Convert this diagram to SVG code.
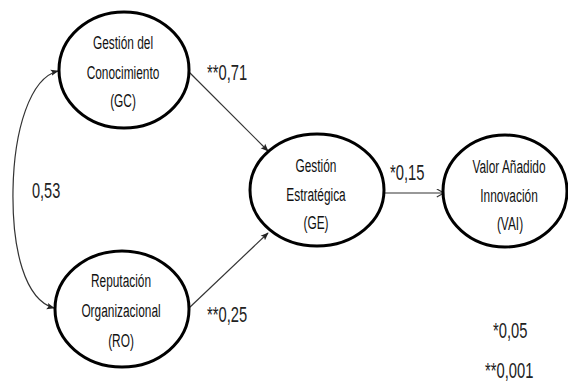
<svg xmlns="http://www.w3.org/2000/svg" width="568" height="383" viewBox="0 0 568 383">
<defs>
<style>
.node ellipse{fill:#fff;stroke:#000;stroke-width:3}
.nt{font-family:"Liberation Sans",Arial,sans-serif;font-size:18px;fill:#111;text-anchor:middle}
.lb{font-family:"Liberation Sans",Arial,sans-serif;font-size:22px;fill:#222}
.edge{fill:none;stroke:#333;stroke-width:1.2}
</style>
<marker id="ah" viewBox="0 0 10 10" refX="9" refY="5" markerWidth="8" markerHeight="8" markerUnits="userSpaceOnUse" orient="auto">
<path d="M0,1 L10,5 L0,9 L2,5 Z" fill="#222"/>
</marker>
<marker id="ao" viewBox="0 0 10 10" refX="9" refY="5" markerWidth="9" markerHeight="9" markerUnits="userSpaceOnUse" orient="auto">
<path d="M1,0.5 L9,5 L1,9.5" fill="none" stroke="#333" stroke-width="1.3"/>
</marker>
</defs>
<rect width="568" height="383" fill="#fff"/>
<g id="connectors">
<path class="edge" d="M189,72 L268,151" marker-end="url(#ah)"/>
<path class="edge" d="M189,308 L268,233" marker-end="url(#ah)"/>
<path class="edge" d="M384,193 L444,193" marker-end="url(#ao)"/>
<path class="edge" d="M13,190 C14,130 30,78 58,71" marker-end="url(#ah)"/>
<path class="edge" d="M13,190 C12,250 25,300 54,308" marker-end="url(#ah)"/>
</g>
<g id="GC" class="node">
<ellipse cx="124" cy="70" rx="65" ry="58"/>
<text class="nt" transform="translate(123,49) scale(0.66,1)">Gestión del</text>
<text class="nt" transform="translate(123,79) scale(0.66,1)">Conocimiento</text>
<text class="nt" transform="translate(123,107) scale(0.66,1)">(GC)</text>
</g>
<g id="RO" class="node">
<ellipse cx="122" cy="309" rx="67" ry="58"/>
<text class="nt" transform="translate(121,287) scale(0.66,1)">Reputación</text>
<text class="nt" transform="translate(121,317) scale(0.66,1)">Organizacional</text>
<text class="nt" transform="translate(121,347) scale(0.66,1)">(RO)</text>
</g>
<g id="GE" class="node">
<ellipse cx="317" cy="190" rx="67" ry="56"/>
<text class="nt" transform="translate(316,172) scale(0.66,1)">Gestión</text>
<text class="nt" transform="translate(316,201) scale(0.66,1)">Estratégica</text>
<text class="nt" transform="translate(316,229) scale(0.66,1)">(GE)</text>
</g>
<g id="VAI" class="node">
<ellipse cx="505" cy="191" rx="62" ry="56"/>
<text class="nt" transform="translate(509,173) scale(0.66,1)">Valor Añadido</text>
<text class="nt" transform="translate(509,202) scale(0.66,1)">Innovación</text>
<text class="nt" transform="translate(510,230) scale(0.66,1)">(VAI)</text>
</g>
<g id="labels">
<text class="lb" transform="translate(207,80) scale(0.67,1)">**0,71</text>
<text class="lb" transform="translate(390,180) scale(0.67,1)">*0,15</text>
<text class="lb" transform="translate(32,198) scale(0.66,1)">0,53</text>
<text class="lb" transform="translate(207,322) scale(0.67,1)">**0,25</text>
<text class="lb" transform="translate(493,338) scale(0.67,1)">*0,05</text>
<text class="lb" transform="translate(485,378) scale(0.67,1)">**0,001</text>
</g>
</svg>
